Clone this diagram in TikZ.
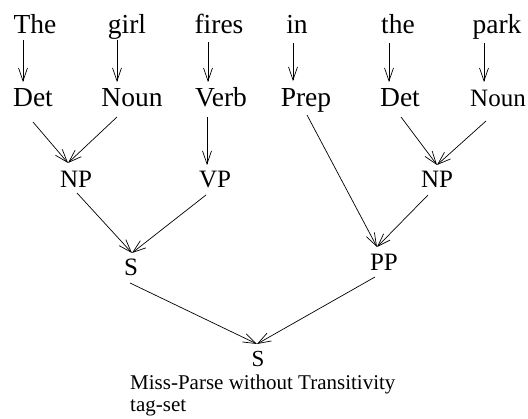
\documentclass[tikz,border=0pt]{standalone}
\usepackage{fontspec}
\setmainfont{Liberation Serif}
\usetikzlibrary{arrows.meta,calc}
\begin{document}
\begin{tikzpicture}[x=1pt,y=-1pt,
  lab/.style={anchor=base,inner sep=0pt,font=\fontsize{27.5}{30}\selectfont},
  labp/.style={anchor=base,inner sep=0pt,font=\fontsize{25}{28}\selectfont},
  labs/.style={anchor=base,inner sep=0pt,font=\fontsize{25}{28}\selectfont},
  arr/.style={-{Straight Barb[length=13pt,width=9pt]},line width=0.7pt}]
\useasboundingbox (0,0) rectangle (528,419);
% words
\node[lab] (w1) at (35,34) {The};
\node[lab] (w2) at (127,34) {girl};
\node[lab] (w3) at (219,34) {fires};
\node[lab] (w4) at (297,34) {in};
\node[lab] (w5) at (398,34) {the};
\node[lab] (w6) at (497,34) {park};
% tags
\node[lab] (t1) at (33,107) {Det};
\node[lab] (t2) at (132,107) {Noun};
\node[lab] (t3) at (221,107) {Verb};
\node[lab] (t4) at (306,107) {Prep};
\node[lab] (t5) at (400,107) {Det};
\node[labs] (t6) at (498,107) {Noun};
% phrases
\node[labp] (p1) at (76,188) {NP};
\node[labp] (p2) at (215,188) {VP};
\node[labp] (p3) at (437,188) {NP};
\node[labp] (s1) at (131,276) {S};
\node[labp] (pp) at (384,271) {PP};
\node[anchor=base,inner sep=0pt,font=\fontsize{23}{27}\selectfont] (s2) at (258,367) {S};
\node[anchor=base west,inner sep=0pt,align=left,font=\fontsize{21}{22}\selectfont] (cap) at (130,412) {Miss-Parse without Transitivity\\tag-set};
% word -> tag
\draw[arr] ($(w1.base)+(-12,6)$) -- ($(t1.base)+(-10,-25)$);
\draw[arr] ($(w2.base)+(-10,6)$) -- ($(t2.base)+(-15,-25)$);
\draw[arr] ($(w3.base)+(-11,8)$) -- ($(t3.base)+(-13,-25)$);
\draw[arr] ($(w4.base)+(-4,9)$) -- ($(t4.base)+(-13,-26)$);
\draw[arr] ($(w5.base)+(-9,9)$) -- ($(t5.base)+(-11,-25)$);
\draw[arr] ($(w6.base)+(-13,9)$) -- ($(t6.base)+(-14,-25)$);
% tag -> phrase
\draw[arr] ($(t1.base)+(0,15)$) -- ($(p1.base)+(-8,-25)$);
\draw[arr] ($(t2.base)+(-15,10)$) -- ($(p1.base)+(-8,-25)$);
\draw[arr] ($(t3.base)+(-14,10)$) -- ($(p2.base)+(-8,-23)$);
\draw[arr] ($(t4.base)+(1,8)$) -- ($(pp.base)+(-7,-24)$);
\draw[arr] ($(t5.base)+(1,10)$) -- ($(p3.base)+(0,-23)$);
\draw[arr] ($(t6.base)+(-12,14)$) -- ($(p3.base)+(0,-23)$);
% phrase -> S / PP
\draw[arr] ($(p1.base)+(1,5)$) -- ($(s1.base)+(1,-23)$);
\draw[arr] ($(p2.base)+(-9,7)$) -- ($(s1.base)+(1,-23)$);
\draw[arr] ($(p3.base)+(-9,7)$) -- ($(pp.base)+(-7,-24)$);
% to root
\draw[arr] ($(s1.base)+(-1,7)$) -- ($(s2.base)+(-1,-23)$);
\draw[arr] ($(pp.base)+(-9,6)$) -- ($(s2.base)+(-1,-23)$);
\end{tikzpicture}
\end{document}
